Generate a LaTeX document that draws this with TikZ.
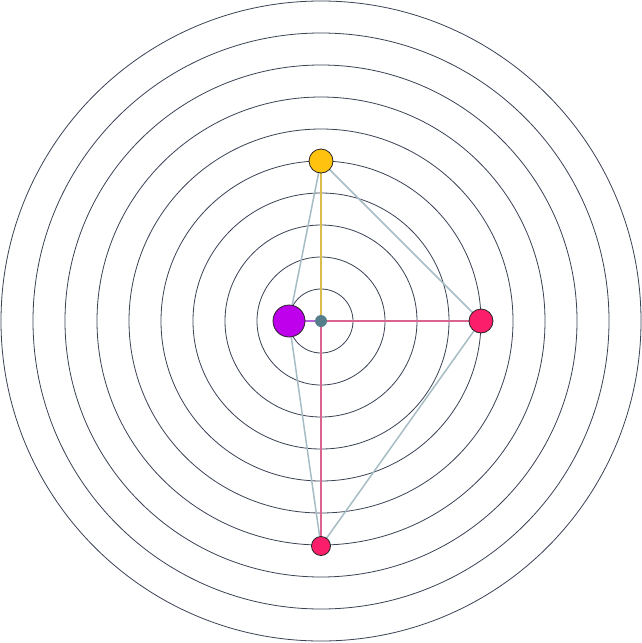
\documentclass[tikz,border=0pt]{standalone}
\usetikzlibrary{backgrounds}
\begin{document}
\begin{tikzpicture}[x=1pt,y=-1pt,
  ring/.style={draw=ringc,line width=0.8pt},
  dot/.style={circle,draw=black!85,line width=0.8pt,inner sep=0pt},
  edgeg/.style={draw=greyc,line width=1.5pt},
  spoke/.style={line width=1.6pt},
  ]
\definecolor{ringc}{HTML}{3A4254}
\definecolor{greyc}{HTML}{A7BDC6}
\definecolor{yel}{HTML}{FFC20E}
\definecolor{yline}{HTML}{D9BC4C}
\definecolor{redc}{HTML}{FA1E6B}
\definecolor{pline}{HTML}{D8648F}
\definecolor{purp}{HTML}{BF00EC}
\definecolor{purline}{HTML}{B45FD6}
\definecolor{ctr}{HTML}{567D8C}
\useasboundingbox (0,0) rectangle (642,643);
\node[circle,fill=ctr,minimum size=12pt,inner sep=0pt] (c) at (321,321) {};
\node[dot,fill=yel,minimum size=24pt] (y) at (321,161) {};
\node[dot,fill=redc,minimum size=24pt] (r) at (481,321) {};
\node[dot,fill=purp,minimum size=32pt] (p) at (289,321) {};
\node[dot,fill=redc,minimum size=19pt] (b) at (321,546) {};
\begin{pgfonlayer}{background}
\fill[white] (0,0) rectangle (642,643);
\foreach \r in {32,64,...,320} \draw[ring] (c.center) circle (\r);
\draw[edgeg] (y.center) -- (r.center) -- (b.center) -- (p.center) -- (y.center);
\draw[spoke,yline] (c.center) -- (y.center);
\draw[spoke,pline] (c.center) -- (r.center);
\draw[spoke,pline] (c.center) -- (b.center);
\draw[spoke,purline] (c.center) -- (p.center);
\end{pgfonlayer}
\end{tikzpicture}
\end{document}
